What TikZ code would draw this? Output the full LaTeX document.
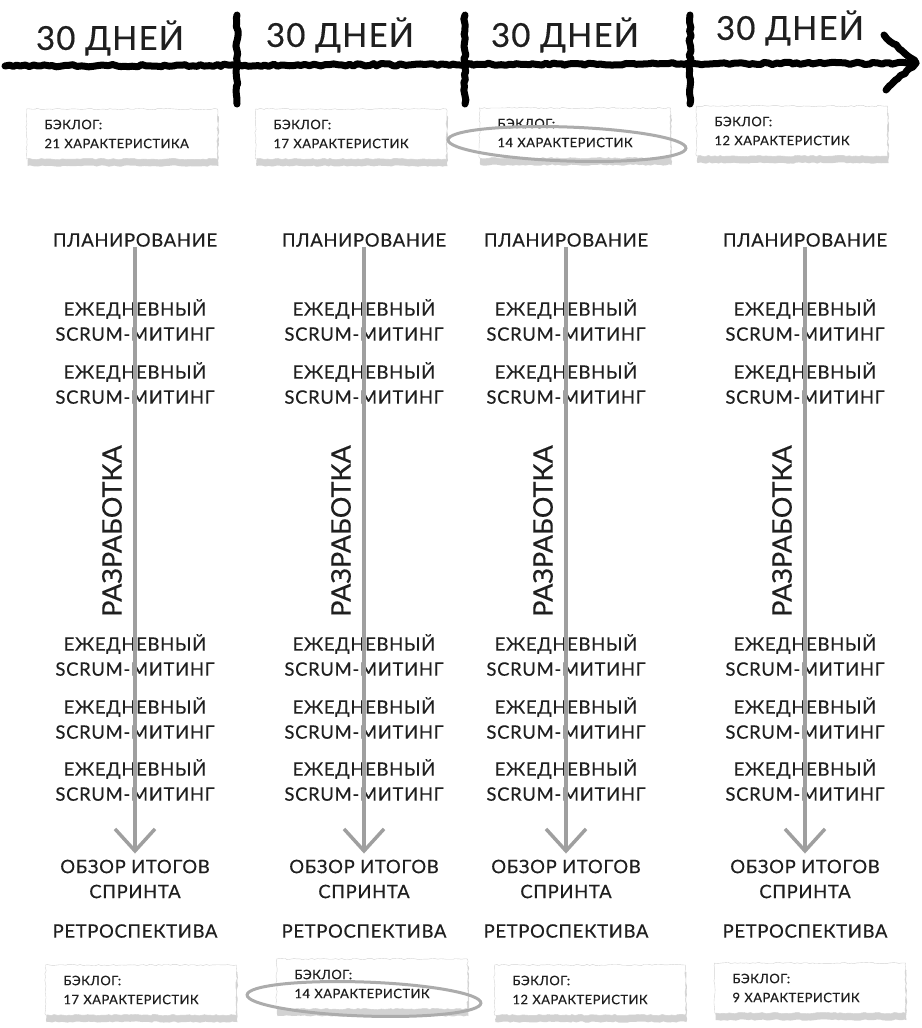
\documentclass[tikz,border=0pt]{standalone}
\usepackage{fontspec}
\setmainfont{Lato}[LetterSpace=3.5, FakeBold=0.35]
\usetikzlibrary{positioning, shadows, decorations.pathmorphing, arrows.meta}
\tikzset{titel/.style={font=\fontsize{33}{33}\selectfont, text=black!88, inner sep=0},
	schritt/.style={font=\fontsize{18.5}{25}\selectfont, align=center, text=black!88, inner sep=0},
	phase/.style={font=\fontsize{27}{27}\selectfont\addfontfeature{LetterSpace=0}, text=black!88, rotate=90, inner sep=0},
	zettel/.style={draw=gray!35, fill=white, thin, decorate,
		decoration={random steps, segment length=3pt, amplitude=0.7pt},
		drop shadow={shadow xshift=1pt, shadow yshift=-7pt, fill=black!35, opacity=0.5},
		text width=155pt, inner xsep=18pt, minimum height=50pt, align=left,
		font=\fontsize{13}{19}\selectfont, text=black!88},
	zeitachse/.style={line width=7pt, black, line cap=round, line join=round, decorate,
		decoration={random steps, segment length=4pt, amplitude=1.2pt}},
	pfeil/.style={line width=3.5pt, gray!75, -{Straight Barb[length=22pt, width=40pt]}, shorten >=6pt},
	kreis/.style={line width=3pt, gray!65} }

\begin{document}
\begin{tikzpicture}[x=1pt, y=-1pt]
	\useasboundingbox (0,0) rectangle (921,1028);

	% Zeitachse
	\coordinate (t0) at (5,66);
	\coordinate (t1) at (916,63);
	\coordinate (spo) at (884,35);
	\coordinate (spu) at (886,90);
	\draw[zeitachse] (t0) -- (t1);
	\draw[zeitachse] (spo) -- (t1) -- (spu);
	\foreach \n/\x in {1/237, 2/465, 3/690} {
		\coordinate (oben\n) at (\x,15);
		\coordinate (unten\n) at (\x,104);
		\draw[zeitachse] (oben\n) -- (unten\n);
	}

	\node (d1) [titel] at (110,38) {30 ДНЕЙ};
	\node (d2) [titel] at (340,35) {30 ДНЕЙ};
	\node (d3) [titel] at (565,35) {30 ДНЕЙ};
	\node (d4) [titel] at (790,28) {30 ДНЕЙ};

	% Backlog vorher
	\node (v1) [zettel] at (122,134) {БЭКЛОГ:\\21 ХАРАКТЕРИСТИКА};
	\node (v2) [zettel] at (351,134) {БЭКЛОГ:\\17 ХАРАКТЕРИСТИК};
	\node (v3) [zettel] at (575,133) {БЭКЛОГ:\\14 ХАРАКТЕРИСТИК};
	\node (v4) [zettel] at (792,131) {БЭКЛОГ:\\12 ХАРАКТЕРИСТИК};

	% Spalten
	\foreach \n/\x in {1/135, 2/364, 3/566, 4/805} {
		\node (plan\n) [schritt] at (\x,240) {ПЛАНИРОВАНИЕ};
		\node (ea\n) [schritt] at (\x,320) {ЕЖЕДНЕВНЫЙ\\SCRUM-МИТИНГ};
		\node (eb\n) [schritt] at (\x,383) {ЕЖЕДНЕВНЫЙ\\SCRUM-МИТИНГ};
		\node (dev\n) [phase] at (\x-23,531) {РАЗРАБОТКА};
		\node (ec\n) [schritt] at (\x,655) {ЕЖЕДНЕВНЫЙ\\SCRUM-МИТИНГ};
		\node (ed\n) [schritt] at (\x,718) {ЕЖЕДНЕВНЫЙ\\SCRUM-МИТИНГ};
		\node (ee\n) [schritt] at (\x,780) {ЕЖЕДНЕВНЫЙ\\SCRUM-МИТИНГ};
		\node (obzor\n) [schritt] at (\x,879) {ОБЗОР ИТОГОВ\\СПРИНТА};
		\node (retro\n) [schritt] at (\x,931) {РЕТРОСПЕКТИВА};
		\draw[pfeil] (plan\n.south) -- (obzor\n.north);
	}

	% Backlog nachher
	\node (n1) [zettel] at (141,990) {БЭКЛОГ:\\17 ХАРАКТЕРИСТИК};
	\node (n2) [zettel] at (372,984) {БЭКЛОГ:\\14 ХАРАКТЕРИСТИК};
	\node (n3) [zettel] at (590,990) {БЭКЛОГ:\\12 ХАРАКТЕРИСТИК};
	\node (n4) [zettel] at (810,988) {БЭКЛОГ:\\9 ХАРАКТЕРИСТИК};

	\draw[kreis, rotate around={-2:(567,144)}] (567,144) ellipse [x radius=119, y radius=17];
	\draw[kreis, rotate around={-2:(364,999)}] (364,999) ellipse [x radius=117, y radius=17];
\end{tikzpicture}
\end{document}
